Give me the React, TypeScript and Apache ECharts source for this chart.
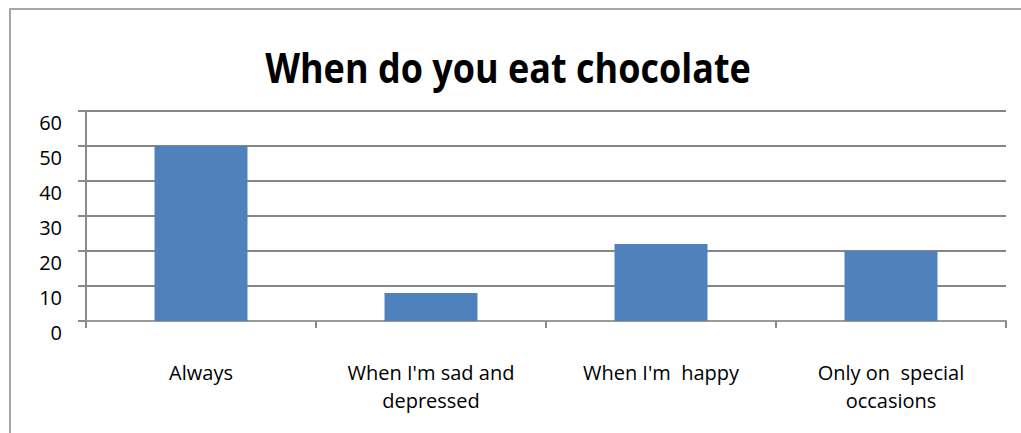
import React, { useEffect, useRef } from "react";
import * as echarts from "echarts";

const titleText = "When do you eat chocolate";
const categories = [
  "Always",
  "When I'm sad and\ndepressed",
  "When I'm  happy",
  "Only on  special\noccasions",
];
const counts = [50, 8, 22, 20];
const yTicks = { min: 0, max: 60, interval: 10 };

const FONT = "'Open Sans', 'Noto Sans', sans-serif";

export default function App() {
  const ref = useRef<HTMLDivElement>(null);

  useEffect(() => {
    if (!ref.current) return;
    const chart = echarts.init(ref.current, undefined, { renderer: "svg" });
    chart.setOption({
      animation: false,
      backgroundColor: "#ffffff",
      grid: { left: 86, right: 15, top: 111, bottom: 112 },
      graphic: [
        {
          type: "rect",
          shape: { x: 10, y: 9, width: 1200, height: 600 },
          style: { fill: "none", stroke: "#a6a6a6", lineWidth: 2 },
          silent: true,
        },
        {
          type: "text",
          x: 508,
          y: 67,
          scaleY: 1.15,
          style: {
            text: titleText,
            fontFamily: FONT,
            fontWeight: "bold",
            fontSize: 36,
            fill: "#000000",
            align: "center",
            verticalAlign: "middle",
          },
        },
      ],
      xAxis: {
        type: "category",
        data: categories,
        axisLine: { show: true, lineStyle: { color: "#9a9a9a", width: 2 } },
        axisTick: { show: true, length: 7, alignWithLabel: false, lineStyle: { color: "#8a8a8a", width: 2 } },
        axisLabel: {
          interval: 0,
          margin: 37,
          color: "#000000",
          fontFamily: FONT,
          fontSize: 20,
          lineHeight: 28,
        },
        splitLine: { show: false },
      },
      yAxis: {
        type: "value",
        min: yTicks.min,
        max: yTicks.max,
        interval: yTicks.interval,
        axisLine: { show: true, lineStyle: { color: "#8a8a8a", width: 2 } },
        axisTick: { show: true, length: 8, lineStyle: { color: "#8a8a8a", width: 2 } },
        axisLabel: {
          margin: 24,
          color: "#000000",
          fontFamily: FONT,
          fontSize: 20,
          verticalAlign: "top",
          lineHeight: 22,
        },
        splitLine: { show: true, lineStyle: { color: "#868686", width: 2 } },
      },
      series: [
        {
          type: "bar",
          data: counts,
          barWidth: 93,
          itemStyle: { color: "#4f81bd" },
        },
      ],
    });
    return () => chart.dispose();
  }, []);

  return (
    <div
      ref={ref}
      style={{ position: "fixed", left: 0, top: 0, width: 1021, height: 433 }}
    />
  );
}
